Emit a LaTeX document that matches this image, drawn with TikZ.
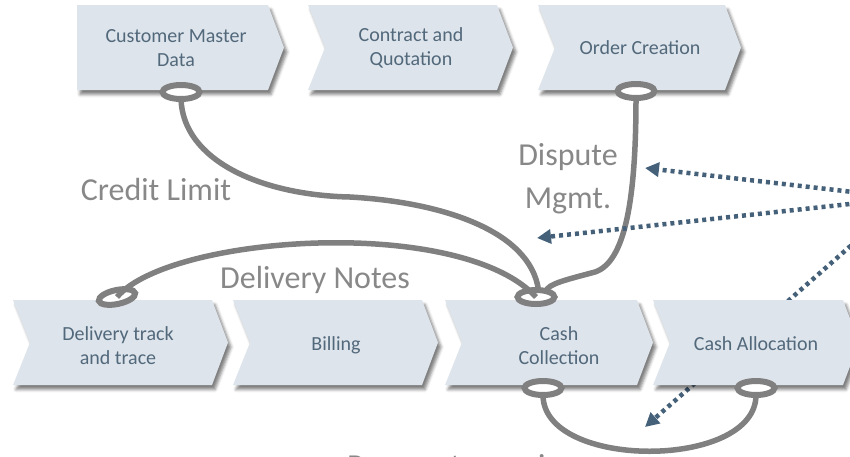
\documentclass[tikz,border=0pt]{standalone}
\usepackage{fontspec}
\setmainfont{Carlito}
\usetikzlibrary{shapes.geometric,arrows.meta,shadows.blur}
\definecolor{chevfill}{HTML}{DDE4EB}
\definecolor{chevtext}{HTML}{52687B}
\definecolor{linkgray}{HTML}{808080}
\definecolor{labelgray}{HTML}{888888}
\definecolor{arrowblue}{HTML}{45617A}
\newcommand\chevpath[4]{% left, top, right, notch depth
  \path[chevbox] (#1,#2) -- (#3,#2) -- (#3+16,#2+42.5) -- (#3,#2+85) -- (#1,#2+85) -- (#1+#4,#2+42.5) -- cycle;}
\begin{document}
\begin{tikzpicture}[x=1pt,y=-1pt,
  chevbox/.style={fill=chevfill, blur shadow={shadow xshift=3pt, shadow yshift=-4.5pt, shadow blur radius=3pt, shadow opacity=50}},
  chevlabel/.style={text=chevtext, font=\fontsize{20}{24}\selectfont, align=center, inner sep=0pt},
  port/.style={ellipse, draw=linkgray, line width=6pt, fill=white, minimum width=37pt, minimum height=14pt, inner sep=0pt, outer sep=0pt},
  link/.style={draw=linkgray, line width=5.5pt},
  bigtext/.style={text=labelgray, font=\fontsize{32}{43}\selectfont, align=center, inner sep=0pt},
  feed/.style={draw=arrowblue, line width=4.5pt, dash pattern=on 4pt off 4pt, -{Triangle[length=14pt,width=14pt]}},
]
\useasboundingbox (0,0) rectangle (850,456);
\clip (0,0) rectangle (850,456);

\coordinate (src) at (905,198);
\coordinate (t1) at (645,168);
\coordinate (t2) at (537,238);
\coordinate (t3) at (645,427);
\draw[feed] (src) -- (t3);

% top row
\chevpath{77}{5}{268}{0}
\chevpath{308}{5}{497}{17}
\chevpath{538}{5}{725}{17}
% bottom row
\chevpath{13}{300}{212}{17}
\chevpath{233}{300}{422}{17}
\chevpath{445}{300}{637}{17}
\chevpath{653}{300}{843}{17}

\node[chevlabel] (cmd) at (176,48) {Customer Master\\Data};
\node[chevlabel] (cq) at (411,48) {Contract and\\Quotation};
\node[chevlabel] (oc) at (640,48) {Order Creation};
\node[chevlabel] (dtt) at (118,346) {Delivery track\\and trace};
\node[chevlabel] (bil) at (336,345) {Billing};
\node[chevlabel] (cc) at (559,346) {Cash\\Collection};
\node[chevlabel] (ca) at (756,344) {Cash Allocation};

\node[port] (pcmd) at (181,92) {};
\node[port] (poc) at (636,91) {};
\node[port, rotate=12] (pdt) at (117,297) {};
\node[port] (pcct) at (536,297) {};
\node[port] (pccb) at (543,388) {};
\node[port] (pcab) at (756,388) {};

\draw[link] (pcmd.south) .. controls (183,160) and (260,195) .. (350,197) .. controls (440,202) and (530,230) .. (pcct.70);
\draw[link] (poc.south) .. controls (636,200) and (625,262) .. (595,272) .. controls (565,280) and (548,284) .. (pcct.30);
\draw[link] (pdt.center) .. controls (170,235) and (460,215) .. (pcct.center);
\draw[link] (pccb.south) .. controls (543,470) and (756,470) .. (pcab.south);

\node[bigtext, anchor=base] (lcl) at (156,200) {Credit Limit};
\node[bigtext, anchor=base] (ldn) at (315,288) {Delivery Notes};
\node[bigtext] (ldm) at (568,179) {Dispute\\Mgmt.};
\node[bigtext, anchor=base west] (lpay) at (347,476) {Payment promise};

\draw[feed] (src) -- (t1);
\draw[feed] (src) -- (t2);
\end{tikzpicture}
\end{document}
